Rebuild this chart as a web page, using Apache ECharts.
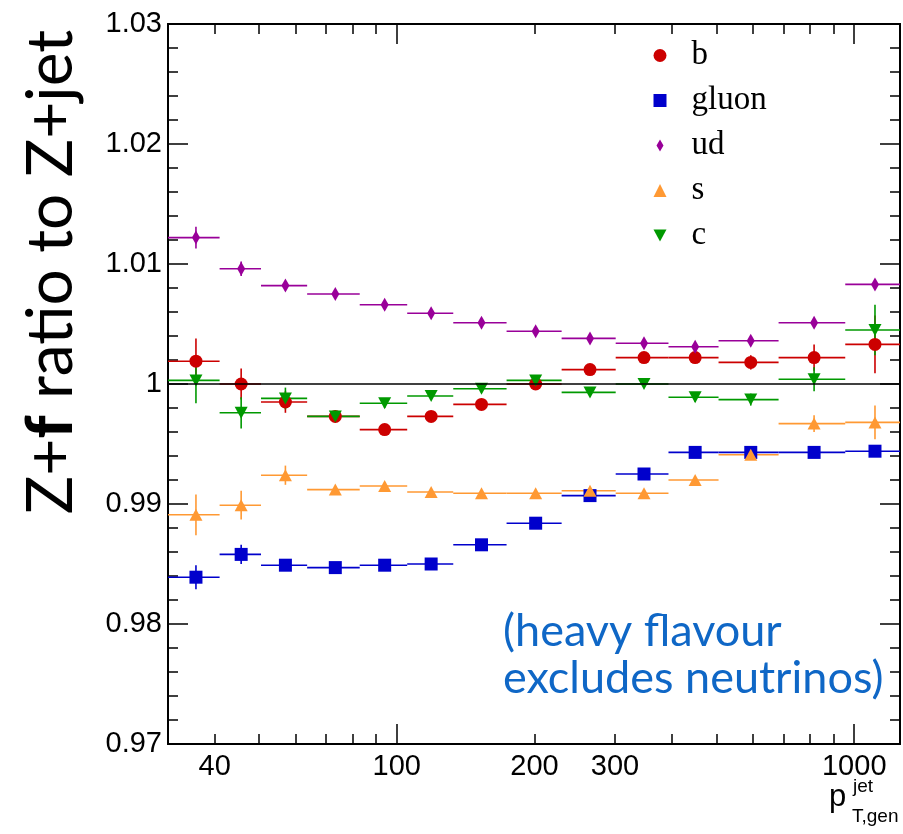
<!DOCTYPE html>
<html>
<head>
<meta charset="utf-8">
<script src="https://cdn.jsdelivr.net/npm/echarts@6/dist/echarts.min.js"></script>
<style>
  html, body { margin: 0; padding: 0; background: #ffffff; }
  #chart { width: 903px; height: 834px; }
</style>
</head>
<body>
<div id="chart"></div>
<script>
// pT bins of the generated jet (GeV): lower/upper edges and mean pT per bin
const binLow  = [31.62, 41.0, 50.5, 63.7, 83.0, 105.4, 132.9, 173.8, 229.3, 301.0, 392.6, 505.1, 683.3, 955.7];
const binHigh = [41.0, 50.5, 63.7, 83.0, 105.4, 132.9, 173.8, 229.3, 301.0, 392.6, 505.1, 683.3, 955.7, 1259];
const ptMean  = [36.4, 45.7, 57.1, 73.4, 94.1, 118.9, 153.2, 201.2, 264.5, 347.1, 449, 594, 817, 1110];

// Z+f / Z+jet response ratio per flavour, with statistical uncertainties
const bRatio     = [1.0019, 1.0000, 0.9985, 0.9973, 0.9962, 0.9973, 0.9983, 1.0000, 1.0012, 1.0022, 1.0022, 1.0018, 1.0022, 1.0033];
const bErr       = [0.0019, 0.0013, 0.0009, 0.0004, 0.0003, 0.0003, 0.0003, 0.0003, 0.0003, 0.0004, 0.0005, 0.0006, 0.0011, 0.0024];
const gluonRatio = [0.9839, 0.9858, 0.9849, 0.9847, 0.9849, 0.9850, 0.9866, 0.9884, 0.9907, 0.9925, 0.9943, 0.9943, 0.9943, 0.9944];
const gluonErr   = [0.0010, 0.0008, 0.0004, 0.0003, 0.0003, 0.0003, 0.0002, 0.0002, 0.0002, 0.0002, 0.0002, 0.0002, 0.0002, 0.0003];
const udRatio    = [1.0122, 1.0096, 1.0082, 1.0075, 1.0066, 1.0059, 1.0051, 1.0044, 1.0038, 1.0034, 1.0031, 1.0036, 1.0051, 1.0083];
const udErr      = [0.0009, 0.0006, 0.0004, 0.0003, 0.0002, 0.0002, 0.0002, 0.0002, 0.0002, 0.0002, 0.0003, 0.0003, 0.0003, 0.0004];
const sRatio     = [0.9891, 0.9899, 0.9924, 0.9912, 0.9915, 0.9910, 0.9909, 0.9909, 0.9911, 0.9909, 0.9920, 0.9941, 0.9967, 0.9968];
const sErr       = [0.0017, 0.0012, 0.0008, 0.0003, 0.0003, 0.0002, 0.0002, 0.0002, 0.0003, 0.0003, 0.0003, 0.0004, 0.0007, 0.0014];
const cRatio     = [1.0003, 0.9976, 0.9988, 0.9973, 0.9984, 0.9990, 0.9996, 1.0003, 0.9993, 1.0000, 0.9989, 0.9987, 1.0004, 1.0045];
const cErr       = [0.0019, 0.0013, 0.0009, 0.0005, 0.0004, 0.0003, 0.0003, 0.0003, 0.0003, 0.0003, 0.0004, 0.0005, 0.0010, 0.0021];

// axis tick positions
const xLabelValues = [40, 100, 200, 300, 1000];
const xMajorTicks  = [100, 1000];
const xMinorTicks  = [40, 50, 60, 70, 80, 90, 200, 300, 400, 500, 600, 700, 800, 900];

const X_MIN = Math.pow(10, 1.5);
const X_MAX = Math.pow(10, 3.1);

const DIAMOND = 'path://M6.5,0.5 L10,6.5 L6.5,12.5 L3,6.5 Z M0,0 L0.01,0 L0,0.01 Z M13,13 L12.99,13 L13,12.99 Z';
const DOWN_TRI = 'path://M0,0 L13,0 L6.5,12 Z';

const flavours = [
  { name: 'b',     vals: bRatio,     errs: bErr,     color: '#cc0000', symbol: 'circle',   size: 13,       rotate: 0,   icon: 'circle' },
  { name: 'gluon', vals: gluonRatio, errs: gluonErr, color: '#0000cc', symbol: 'rect',     size: 13,       rotate: 0,   icon: 'rect' },
  { name: 'ud',    vals: udRatio,    errs: udErr,    color: '#990099', symbol: 'diamond',  size: [8, 14],  rotate: 0,   icon: DIAMOND },
  { name: 's',     vals: sRatio,     errs: sErr,     color: '#ff9933', symbol: 'triangle', size: [13, 12], rotate: 0,   icon: 'triangle' },
  { name: 'c',     vals: cRatio,     errs: cErr,     color: '#009900', symbol: 'triangle', size: [13, 12], rotate: 180, icon: DOWN_TRI }
];

const tickFont = { fontFamily: 'Liberation Sans, Arial, Helvetica, sans-serif', fontSize: 29, color: '#000' };
const frameLine = { show: true, onZero: false, lineStyle: { color: '#000', width: 2 } };

// horizontal bar = bin width, vertical bar = uncertainty on the ratio
function errorBarRenderer(color) {
  return function (params, api) {
    const v = api.value(3), e = api.value(4), c = api.value(2);
    const lo = api.coord([api.value(0), v]);
    const hi = api.coord([api.value(1), v]);
    const top = api.coord([c, v + e]);
    const bot = api.coord([c, v - e]);
    const style = { stroke: color, lineWidth: 1.6 };
    return {
      type: 'group',
      children: [
        { type: 'line', shape: { x1: lo[0], y1: lo[1], x2: hi[0], y2: hi[1] }, style: style },
        { type: 'line', shape: { x1: top[0], y1: top[1], x2: bot[0], y2: bot[1] }, style: style }
      ]
    };
  };
}

const series = [];
flavours.forEach(function (f, k) {
  const errData = f.vals.map(function (v, i) { return [binLow[i], binHigh[i], ptMean[i], v, f.errs[i]]; });
  const errSeries = {
    type: 'custom',
    name: f.name + ' unc',
    xAxisIndex: 0, yAxisIndex: 0,
    encode: { x: 2, y: 3 },
    data: errData,
    renderItem: errorBarRenderer(f.color),
    silent: true
  };
  if (k === 0) {
    errSeries.markLine = {
      silent: true,
      symbol: ['none', 'none'],
      label: { show: false },
      lineStyle: { color: '#000', width: 1.5, type: 'solid' },
      data: [{ yAxis: 1 }]
    };
  }
  series.push(errSeries);
  series.push({
    type: 'scatter',
    name: f.name,
    xAxisIndex: 0, yAxisIndex: 0,
    symbol: f.symbol,
    symbolSize: f.size,
    symbolRotate: f.rotate,
    itemStyle: { color: f.color, opacity: 1 },
    data: f.vals.map(function (v, i) { return [ptMean[i], v]; })
  });
});

const gridRect = { left: 168, top: 24, width: 732, height: 720 };

function logAxis(gridIndex, position, ticks, tickLen, labels) {
  return {
    type: 'log', logBase: 10, gridIndex: gridIndex, position: position,
    min: X_MIN, max: X_MAX,
    axisLine: frameLine,
    axisTick: { show: true, inside: true, length: tickLen, customValues: ticks, lineStyle: { color: '#000', width: 1.5 } },
    axisLabel: labels ? Object.assign({ show: true, margin: 8, customValues: labels, formatter: function (v) { return String(Math.round(v)); } }, tickFont) : { show: false },
    minorTick: { show: false },
    splitLine: { show: false },
    minorSplitLine: { show: false }
  };
}

function ratioAxis(gridIndex, position, withLabels) {
  return {
    type: 'value', gridIndex: gridIndex, position: position,
    min: 0.97, max: 1.03, interval: 0.01,
    axisLine: frameLine,
    axisTick: { show: true, inside: true, length: 20, lineStyle: { color: '#000', width: 1.5 } },
    minorTick: { show: true, splitNumber: 5, length: 10, lineStyle: { color: '#000', width: 1.5 } },
    axisLabel: withLabels ? Object.assign({ show: true, margin: 6, formatter: function (v) { return String(+v.toFixed(2)); } }, tickFont) : { show: false },
    splitLine: { show: false },
    minorSplitLine: { show: false }
  };
}

const option = {
  animation: false,
  backgroundColor: '#ffffff',
  grid: [Object.assign({}, gridRect), Object.assign({}, gridRect)],
  xAxis: [
    logAxis(0, 'bottom', xMajorTicks, 20, xLabelValues),
    logAxis(0, 'top', xMajorTicks, 20, null),
    logAxis(1, 'bottom', xMinorTicks, 10, null),
    logAxis(1, 'top', xMinorTicks, 10, null)
  ],
  yAxis: [
    ratioAxis(0, 'left', true),
    ratioAxis(0, 'right', false),
    { type: 'value', gridIndex: 1, min: 0.97, max: 1.03, show: false }
  ],
  legend: {
    orient: 'vertical',
    left: 653.5, top: 39,
    padding: 0,
    itemWidth: 13, itemHeight: 13,
    itemGap: 12,
    selectedMode: false,
    textStyle: { fontFamily: 'Liberation Serif, Times New Roman, serif', fontSize: 33, color: '#000', lineHeight: 33, padding: [0, 0, 0, 20] },
    data: flavours.map(function (f) { return { name: f.name, icon: f.icon }; })
  },
  graphic: [
    {
      type: 'text', x: 51, y: 272, rotation: Math.PI / 2,
      style: {
        text: 'Z+{b|f} ratio to Z+jet',
        font: '64px Lato, "Open Sans", sans-serif',
        fill: '#000', align: 'center', verticalAlign: 'middle',
        rich: { b: { fontFamily: 'Lato, "Open Sans", sans-serif', fontSize: 64, fontWeight: 900, fill: '#000' } }
      }
    },
    {
      type: 'text', left: 503, top: 608,
      style: {
        text: '(heavy flavour\nexcludes neutrinos)',
        font: '45px Lato, "Open Sans", sans-serif',
        lineHeight: 47,
        fill: '#0f67c6'
      }
    },
    { type: 'text', x: 829, y: 813, style: { text: 'p', font: '31px "Liberation Sans", Arial, sans-serif', fill: '#000', verticalAlign: 'bottom' } },
    { type: 'text', x: 853, y: 796, style: { text: 'jet', font: '19px "Liberation Sans", Arial, sans-serif', fill: '#000', verticalAlign: 'bottom' } },
    { type: 'text', x: 852, y: 826, style: { text: 'T,gen', font: '19px "Liberation Sans", Arial, sans-serif', fill: '#000', verticalAlign: 'bottom' } }
  ],
  series: series
};

const chart = echarts.init(document.getElementById('chart'), null, { renderer: 'canvas' });
chart.setOption(option);
</script>
</body>
</html>
